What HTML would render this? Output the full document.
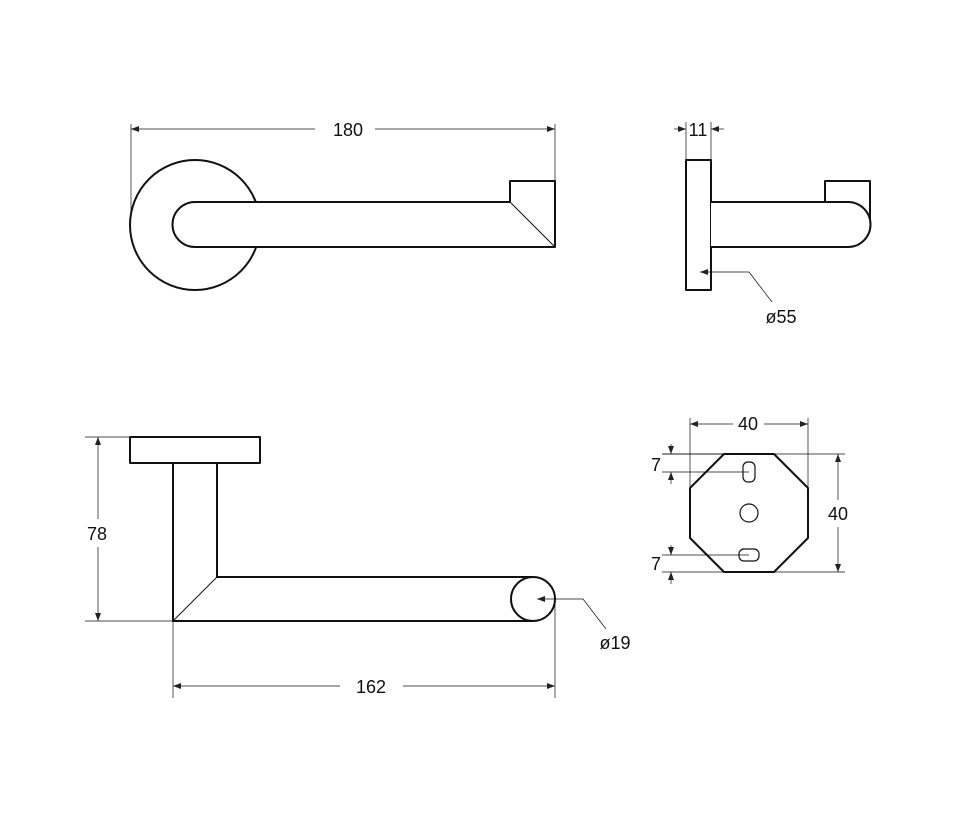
<!DOCTYPE html>
<html><head><style>
html,body{margin:0;padding:0;background:#fff;}
svg{display:block;}
text{font-family:"Liberation Sans",sans-serif;font-size:18px;fill:#111;}
</style></head><body>
<svg width="976" height="823" viewBox="0 0 976 823" xmlns="http://www.w3.org/2000/svg">
<defs>
<marker id="a" markerWidth="8" markerHeight="6" refX="8" refY="3" orient="auto-start-reverse" markerUnits="userSpaceOnUse">
<path d="M0,0 L8,3 L0,6 z" fill="#222"/></marker>
</defs>
<g fill="none" stroke="#111" stroke-width="0.7">
<line x1="131" y1="124" x2="131" y2="225"/>
<line x1="555" y1="124" x2="555" y2="181"/>
<line x1="131" y1="129" x2="315" y2="129" marker-start="url(#a)"/>
<line x1="375" y1="129" x2="555" y2="129" marker-end="url(#a)"/>
<line x1="686" y1="122" x2="686" y2="160"/>
<line x1="711" y1="122" x2="711" y2="160"/>
<line x1="674" y1="129" x2="686" y2="129" marker-end="url(#a)"/>
<line x1="724" y1="129" x2="711" y2="129" marker-end="url(#a)"/>
<line x1="85" y1="437" x2="130" y2="437"/>
<line x1="85" y1="621" x2="173" y2="621"/>
<line x1="98" y1="437" x2="98" y2="519" marker-start="url(#a)"/>
<line x1="98" y1="547" x2="98" y2="621" marker-end="url(#a)"/>
<line x1="173" y1="621" x2="173" y2="698"/>
<line x1="555" y1="599" x2="555" y2="698"/>
<line x1="173" y1="686" x2="340" y2="686" marker-start="url(#a)"/>
<line x1="403" y1="686" x2="555" y2="686" marker-end="url(#a)"/>
<line x1="690" y1="418" x2="690" y2="489"/>
<line x1="808" y1="418" x2="808" y2="489"/>
<line x1="690" y1="424" x2="733" y2="424" marker-start="url(#a)"/>
<line x1="764" y1="424" x2="808" y2="424" marker-end="url(#a)"/>
<line x1="662" y1="454" x2="845" y2="454"/>
<line x1="662" y1="572" x2="845" y2="572"/>
<line x1="838" y1="454" x2="838" y2="500" marker-start="url(#a)"/>
<line x1="838" y1="527" x2="838" y2="572" marker-end="url(#a)"/>
<line x1="671" y1="444" x2="671" y2="454" marker-end="url(#a)"/>
<line x1="671" y1="484" x2="671" y2="472" marker-end="url(#a)"/>
<line x1="671" y1="545" x2="671" y2="555" marker-end="url(#a)"/>
<line x1="671" y1="584" x2="671" y2="572" marker-end="url(#a)"/>
</g>
<g fill="#fff" stroke="#111" stroke-width="2" stroke-linejoin="round">
<circle cx="195" cy="225" r="65"/>
<path d="M195,202 L510,202 L510,181 L555,181 L555,247 L195,247 A22.5,22.5 0 0 1 195,202 Z"/>
<line x1="510" y1="202" x2="555" y2="247" stroke-width="1"/>
<rect x="686" y="160" width="25" height="130"/>
<path d="M825,202 L825,181 L870,181 L870,225"/>
<path d="M711,202 L848,202 A22.5,22.5 0 0 1 848,247 L711,247"/>
<rect x="130" y="437" width="130" height="26"/>
<path d="M173,463 L217,463 L217,577 L533,577 L533,621 L173,621 Z"/>
<line x1="173" y1="621" x2="217" y2="577" stroke-width="1"/>
<circle cx="533" cy="599" r="22"/>
<polygon points="724,454 774,454 808,488 808,538 774,572 724,572 690,538 690,488"/>
<rect x="743" y="462" width="12" height="20" rx="5" stroke-width="1.2"/>
<circle cx="749" cy="513" r="9" stroke-width="1.2"/>
<rect x="739" y="549" width="20" height="12" rx="5" stroke-width="1.2"/>
</g>
<g fill="none" stroke="#111" stroke-width="0.7">
<line x1="662" y1="472" x2="749" y2="472"/>
<line x1="662" y1="555" x2="749" y2="555"/>
<line x1="724" y1="454" x2="662" y2="454"/>
<polyline points="772,302 749,272 700,272" marker-end="url(#a)"/>
<polyline points="606,629 583,599 537,599" marker-end="url(#a)"/>
</g>
<text x="348" y="136" text-anchor="middle">180</text>
<text x="698" y="136" text-anchor="middle">11</text>
<text x="781" y="323" text-anchor="middle">ø55</text>
<text x="97" y="540" text-anchor="middle">78</text>
<text x="371" y="693" text-anchor="middle">162</text>
<text x="615" y="649" text-anchor="middle">ø19</text>
<text x="748" y="430" text-anchor="middle">40</text>
<text x="838" y="520" text-anchor="middle">40</text>
<text x="656" y="471" text-anchor="middle">7</text>
<text x="656" y="570" text-anchor="middle">7</text>
</svg>
</body></html>
